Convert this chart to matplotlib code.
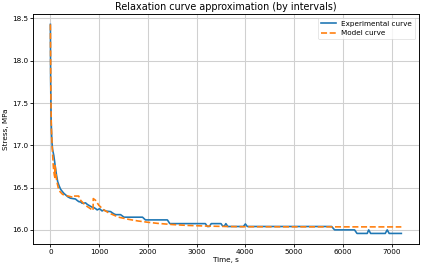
import matplotlib
matplotlib.use("Agg")
import matplotlib.pyplot as plt

# Experimental curve (time, s / stress, MPa)
exp_t = [0, 5, 15, 30, 45, 70, 100, 125, 150, 180, 210, 250, 280, 320, 360, 410,
         460, 515, 545, 583, 620, 650, 686, 720, 760, 790, 850, 892, 930, 960, 1010,
         1060, 1100, 1140, 1235, 1300, 1340, 1440, 1510, 1890, 1950, 2400, 2450,
         3180, 3220, 3260, 3300, 3500, 3535, 3570, 3600, 3640, 3960, 4000, 4040,
         5770, 5830, 6240, 6290, 6500, 6530, 6570, 6620, 6870, 6910, 6950, 7200]
exp_y = [18.43, 17.8, 17.3, 17.05, 16.95, 16.88, 16.75, 16.65, 16.57, 16.52, 16.48,
         16.45, 16.43, 16.41, 16.39, 16.375, 16.37, 16.365, 16.35, 16.334, 16.33,
         16.315, 16.315, 16.32, 16.30, 16.29, 16.27, 16.264, 16.25, 16.236, 16.25,
         16.224, 16.235, 16.222, 16.216, 16.19, 16.18, 16.18, 16.15, 16.15, 16.118,
         16.118, 16.074, 16.074, 16.04, 16.04, 16.074, 16.074, 16.045, 16.045,
         16.074, 16.04, 16.04, 16.07, 16.04, 16.04, 16.0, 16.0, 15.958, 15.958,
         16.0, 15.958, 15.958, 15.958, 16.0, 15.958, 15.958]

# Model curve (piecewise approximation)
mod_t = [0, 10, 20, 40, 60, 80, 92, 97, 110, 130, 160, 200, 250, 300, 400, 470,
         480, 580, 620, 720, 823, 875, 880, 926, 995, 1098, 1200, 1300, 1400,
         1600, 1800, 2000, 2200, 2500, 2800, 3200, 3600, 4000, 5500, 7200]
mod_y = [18.43, 17.6, 17.2, 16.95, 16.75, 16.65, 16.62, 16.76, 16.68, 16.58,
         16.50, 16.45, 16.42, 16.41, 16.395, 16.385, 16.40, 16.40, 16.35, 16.29,
         16.25, 16.23, 16.37, 16.35, 16.29, 16.235, 16.20, 16.175, 16.15, 16.125,
         16.105, 16.09, 16.077, 16.063, 16.053, 16.045, 16.04, 16.037, 16.036,
         16.035]

plt.rcParams.update({"font.size": 12.5, "axes.titlesize": 16.5, "axes.labelsize": 12.5,
                     "xtick.labelsize": 12.5, "ytick.labelsize": 12.5,
                     "legend.fontsize": 12.5, "axes.linewidth": 1.6,
                     "xtick.major.width": 1.4, "ytick.major.width": 1.4,
                     "xtick.major.size": 5, "ytick.major.size": 5})

fig, ax = plt.subplots(figsize=(10, 6.366), dpi=42.1)
fig.subplots_adjust(left=0.078, right=0.995, top=0.948, bottom=0.09)

ax.plot(exp_t, exp_y, color="#1f77b4", linewidth=2.8, label="Experimental curve")
ax.plot(mod_t, mod_y, color="#ff7f0e", linestyle="--", linewidth=2.8, label="Model curve")

ax.set_title("Relaxation curve approximation (by intervals)")
ax.set_xlabel("Time, s")
ax.set_ylabel("Stress, MPa")
ax.set_yticks([16.0, 16.5, 17.0, 17.5, 18.0, 18.5])
ax.grid(True, linewidth=1.8, color="#d0d0d0")
ax.legend(loc="upper right")

fig.savefig("out.png", dpi=42.1)
